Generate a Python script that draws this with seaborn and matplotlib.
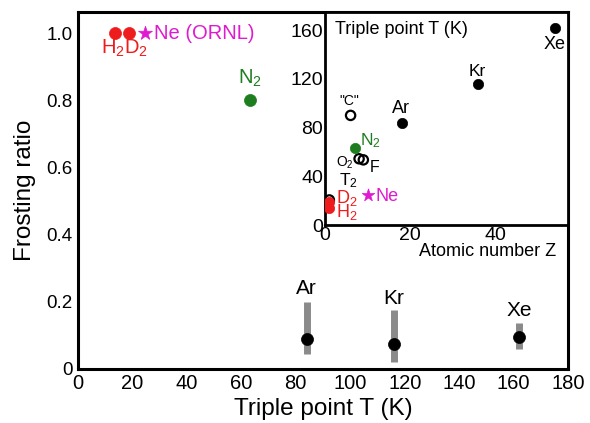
import matplotlib
matplotlib.use("Agg")
import matplotlib.pyplot as plt
import seaborn as sns
import pandas as pd

# ---------------- data ----------------
# main panel: frosting ratio vs triple point temperature
main_species = ["H2", "D2", "Ne", "N2", "Ar", "Kr", "Xe"]
main_T = [13.8, 18.7, 24.6, 63.2, 84.0, 116.0, 162.0]
main_ratio = [1.0, 1.0, 1.0, 0.80, 0.09, 0.075, 0.095]
main_group = ["hyd", "hyd", "ne", "n2", "noble", "noble", "noble"]

bar_species = ["Ar", "Kr", "Xe"]
bar_T = [84.0, 116.0, 162.0]
bar_low = [0.045, 0.02, 0.06]
bar_high = [0.20, 0.175, 0.137]

# inset: triple point vs atomic number
inset_species = ["H2", "D2", "T2", "Ne", "N2", "O2", "F", "C", "Ar", "Kr", "Xe"]
inset_Z = [1, 1, 1, 10, 7, 8, 9, 6, 18, 36, 54]
inset_T = [13.8, 18.7, 20.6, 24.6, 63.2, 54.4, 53.5, 90.0, 83.8, 115.8, 161.4]
inset_group = ["hyd", "hyd", "open", "ne", "n2", "open", "open", "open", "noble", "noble", "noble"]

main_xticks = [0, 20, 40, 60, 80, 100, 120, 140, 160, 180]
main_yticks = [0, 0.2, 0.4, 0.6, 0.8, 1.0]
main_yticklabels = ["0", "0.2", "0.4", "0.6", "0.8", "1.0"]
inset_xticks = [0, 20, 40]
inset_yticks = [0, 40, 80, 120, 160]

RED = "#ee1c1c"
GREEN = "#1e7d1e"
MAG = "#e01ad0"
GRAY = "#8a8a8a"

df_main = pd.DataFrame({"species": main_species, "T": main_T,
                        "ratio": main_ratio, "group": main_group})
df_in = pd.DataFrame({"species": inset_species, "Z": inset_Z,
                      "T": inset_T, "group": inset_group})

sns.set_style("white")
plt.rcParams["font.family"] = ["Liberation Sans", "DejaVu Sans"]
plt.rcParams["mathtext.fontset"] = "custom"
plt.rcParams["mathtext.rm"] = "Liberation Sans"
plt.rcParams["mathtext.it"] = "Liberation Sans"
for k in ["text.color", "axes.labelcolor", "xtick.color", "ytick.color", "axes.edgecolor"]:
    plt.rcParams[k] = "black"

fig = plt.figure(figsize=(5.9, 4.23), dpi=100)
ax = fig.add_axes([0.132, 0.128, 0.831, 0.844])

# error bars
ax.vlines(bar_T, bar_low, bar_high, color=GRAY, lw=5, zorder=1)

colors = {"hyd": RED, "ne": MAG, "n2": GREEN, "noble": "black"}
for g, c in colors.items():
    sub = df_main[df_main["group"] == g]
    sns.scatterplot(data=sub, x="T", y="ratio", ax=ax, color=c,
                    marker="*" if g == "ne" else "o",
                    s=110 if g == "ne" else 75, edgecolor=c, linewidth=0.5,
                    zorder=3, legend=False)

ax.set_xlim(0, 180)
ax.set_ylim(0, 1.063)
ax.set_xticks(main_xticks)
ax.set_yticks(main_yticks)
ax.set_yticklabels(main_yticklabels)
ax.tick_params(direction="in", length=5, width=1.5, pad=4)
ax.tick_params(axis="x", labelsize=14.5)
ax.tick_params(axis="y", labelsize=13.5)
for s in ax.spines.values():
    s.set_linewidth(2.2)
ax.set_xlabel("Triple point T (K)", fontsize=17.5, labelpad=3)
ax.set_ylabel("Frosting ratio", fontsize=17.5, labelpad=7)

ax.text(17.0, 0.955, "H$_2$D$_2$", color=RED, fontsize=14.5, ha="center", va="center")
ax.text(28.0, 1.0, "Ne (ORNL)", color=MAG, fontsize=14.5, ha="left", va="center")
ax.text(63.2, 0.865, "N$_2$", color=GREEN, fontsize=14.5, ha="center", va="center")
ax.text(84.0, 0.24, "Ar", fontsize=15, ha="center", va="center")
ax.text(116.0, 0.21, "Kr", fontsize=15, ha="center", va="center")
ax.text(162.0, 0.175, "Xe", fontsize=15, ha="center", va="center")

# ---------------- inset ----------------
ax2 = fig.add_axes([0.551, 0.468, 0.412, 0.504])
ax2.set_facecolor("white")
for g, c in colors.items():
    sub = df_in[df_in["group"] == g]
    sns.scatterplot(data=sub, x="Z", y="T", ax=ax2, color=c,
                    marker="*" if g == "ne" else "o",
                    s=90 if g == "ne" else 55, edgecolor=c, linewidth=0.5,
                    zorder=3, legend=False)
sub = df_in[df_in["group"] == "open"]
sns.scatterplot(data=sub, x="Z", y="T", ax=ax2, facecolor="none",
                edgecolor="black", linewidth=1.6, s=45, zorder=2, legend=False)

ax2.set_xlim(0, 57.2)
ax2.set_ylim(0, 175)
ax2.set_xticks(inset_xticks)
ax2.set_yticks(inset_yticks)
ax2.tick_params(direction="in", length=4, width=1.5, labelsize=14, pad=1.5)
ax2.tick_params(axis="x", pad=1.5)
for s in ax2.spines.values():
    s.set_linewidth(2.0)
ax2.set_xlabel("")
ax2.set_ylabel("")
ax2.text(0.04, 0.915, "Triple point T (K)", transform=ax2.transAxes,
         fontsize=13, ha="left", va="center")
ax2.text(0.95, -0.125, "Atomic number Z", transform=ax2.transAxes,
         fontsize=13, ha="right", va="center")

ax2.text(54.1, 148, "Xe", fontsize=13, ha="center", va="center")
ax2.text(35.8, 126, "Kr", fontsize=12.5, ha="center", va="center")
ax2.text(17.9, 95.5, "Ar", fontsize=13, ha="center", va="center")
ax2.text(5.6, 102, '"C"', fontsize=10, ha="center", va="center")
ax2.text(8.3, 69, "N$_2$", color=GREEN, fontsize=12.5, ha="left", va="center")
ax2.text(6.7, 51, "O$_2$", fontsize=10, ha="right", va="center")
ax2.text(10.5, 47, "F", fontsize=11.5, ha="left", va="center")
ax2.text(3.3, 36.5, "T$_2$", fontsize=12.5, ha="left", va="center")
ax2.text(2.6, 22.5, "D$_2$", color=RED, fontsize=13, ha="left", va="center")
ax2.text(2.6, 10.5, "H$_2$", color=RED, fontsize=13, ha="left", va="center")
ax2.text(11.8, 23.3, "Ne", color=MAG, fontsize=13, ha="left", va="center")

fig.savefig("out.png", dpi=100)
